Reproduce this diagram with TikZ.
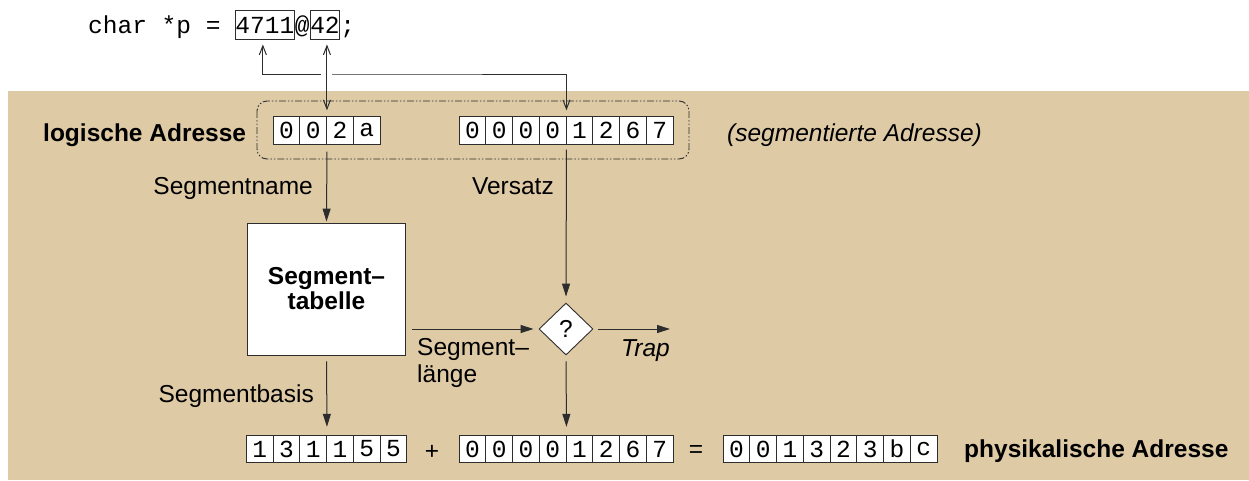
\documentclass[tikz,border=0pt]{standalone}
\usepackage{fontspec}
\setmainfont{Liberation Sans}
\setmonofont{Liberation Mono}
\usetikzlibrary{arrows.meta,shapes.geometric}
\definecolor{bg}{RGB}{222,202,165}
\definecolor{ln}{RGB}{45,45,45}
\newcommand\fs{\fontsize{24.5}{27}\selectfont}
\newcommand\fsb{\fontsize{24.5}{25}\selectfont}
\newcommand\cellrow[4]{%
  \foreach \d [count=\i] in {#4} {\node[cell] (#1\i) at ({#2+(\i-0.5)*26.75},#3) {\d};}}
\begin{document}
\begin{tikzpicture}[x=1pt,y=-1pt,
  cell/.style={draw=ln, line width=0.9pt, fill=white, minimum width=26.75pt, minimum height=27.5pt, inner sep=0pt, font=\ttfamily\fs},
  lbl/.style={inner sep=0pt, font=\fs},
  blbl/.style={inner sep=0pt, font=\fs\bfseries},
  ilbl/.style={inner sep=0pt, font=\fs\itshape},
  code/.style={inner sep=0pt, font=\ttfamily\fs},
  codebox/.style={code, draw=ln, line width=0.9pt, inner ysep=1pt, text height=22pt, text depth=5pt},
  arr/.style={draw=ln, line width=1pt, -{Triangle[length=13pt,width=8pt]}},
  oarr/.style={draw=ln, line width=1pt, {Straight Barb[length=9pt,width=7pt]}-{Straight Barb[length=9pt,width=7pt]}},
  dashbox/.style={draw=ln, line width=0.9pt, rounded corners=10pt, dash pattern=on 7pt off 2pt on 1.5pt off 2pt on 1.5pt off 2pt}
]
\useasboundingbox (0,0) rectangle (1249,480);
\fill[bg] (8,91) rectangle (1249,480);

% declaration line
\node[code, anchor=base west] (decl) at (88,33) {char *p =};
\node[codebox, anchor=base west] (n4711) at (235,33) {4711};
\node[code, anchor=base west] (atsign) at (n4711.base east) {@};
\node[codebox, anchor=base west] (n42) at (atsign.base east) {42};
\node[code, anchor=base west] (semi) at (n42.base east) {;};

% segmented address frame
\draw[dashbox] (257,101) rectangle (689,159);

% cell rows
\cellrow{la}{273}{130.5}{0,0,2,a}
\cellrow{lb}{459}{130.5}{0,0,0,0,1,2,6,7}
\cellrow{pa}{246.25}{449}{1,3,1,1,5,5}
\cellrow{pb}{459}{449}{0,0,0,0,1,2,6,7}
\cellrow{pc}{723}{449}{0,0,1,3,2,3,b,c}

% labels
\node[blbl, anchor=base west] (logi) at (43,141) {logische Adresse};
\node[ilbl, anchor=base west] (segadr) at (727,141) {(segmentierte Adresse)};
\node[lbl, anchor=base east] (sname) at (313,194) {Segmentname};
\node[lbl, anchor=base east] (vers) at (554,194) {Versatz};
\node[lbl, anchor=base east] (sbasis) at (314,402) {Segmentbasis};
\node[lbl, anchor=base west] (slen1) at (417,355) {Segment–};
\node[lbl, anchor=base west] (slen2) at (417,382) {länge};
\node[ilbl, anchor=base west] (trap) at (621,356) {Trap};
\node[blbl, anchor=base west] (phys) at (964,457) {physikalische Adresse};
\node[lbl] (plus) at (432,452) {+};
\node[lbl] (eq) at (696,451) {=};

% table and comparator
\node[draw=ln, fill=white, line width=0.9pt, minimum width=158pt, minimum height=132pt, inner sep=0pt, align=center, font=\fsb\bfseries] (tab) at (326.5,289) {Segment–\\tabelle};
\node[draw=ln, fill=white, line width=0.9pt, diamond, minimum width=54pt, minimum height=52pt, inner sep=0pt, font=\fs] (dia) at (566,329) {?};
\coordinate (trapend) at (670,329);

% upper connectors
\path (n4711.south) ++(-2,0) coordinate (p1);
\path (n42.south -| la2.north east) coordinate (q1);
\coordinate (jog) at (400,74);
\draw[oarr] ([yshift=-5pt]p1) |- (jog) -| ([yshift=6pt]lb4.north east);
\fill[white] (321,71) rectangle (332,77);
\draw[oarr] ([yshift=-5pt]q1) -- ([yshift=6pt]la2.north east);

% lower connectors
\draw[arr, shorten >=1pt] ([yshift=-7pt]la2.south east) -- (tab.north);
\draw[arr, shorten >=6pt] ([yshift=-5pt]lb4.south east) -- (dia.north);
\draw[arr, shorten <=6pt, shorten >=5pt] (tab.east |- dia.west) -- (dia.west);
\draw[arr, shorten <=5pt] (dia.east) -- (trapend);
\draw[arr, shorten <=6pt] (dia.south) -- ([yshift=8pt]pb4.north east);
\draw[arr, shorten <=6pt] (tab.south) -- ([yshift=8pt]pa3.north east);
\end{tikzpicture}
\end{document}
